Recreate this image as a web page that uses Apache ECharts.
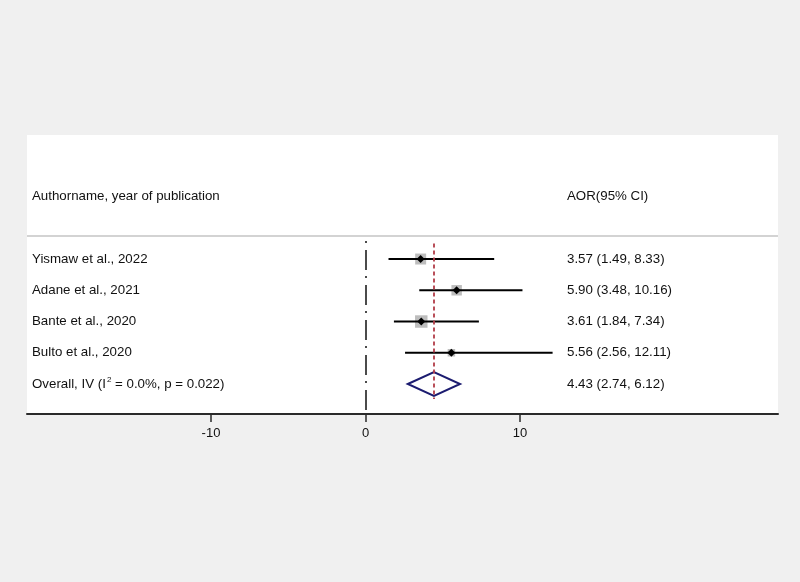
<!DOCTYPE html>
<html><head><meta charset="utf-8">
<script src="https://cdn.jsdelivr.net/npm/echarts@6/dist/echarts.min.js"></script>
<style>html,body{margin:0;padding:0;background:#f0f0f0}#c{width:800px;height:582px}</style>
</head><body><div id="c"></div>
<script>
// ---- data ----
const studies = ['Yismaw et al., 2022', 'Adane et al., 2021', 'Bante et al., 2020', 'Bulto et al., 2020'];
const aor = [3.57, 5.90, 3.61, 5.56];
const lower = [1.49, 3.48, 1.84, 2.56];
const upper = [8.33, 10.16, 7.34, 12.11];
const weights = [27.3, 24.8, 35.2, 12.7];
const overallLabel = 'Overall, IV (I{sup|2} = 0.0%, p = 0.022)';
const overallEst = 4.43;
const overallLower = 2.74;
const overallUpper = 6.12;
const headerLeft = 'Authorname, year of publication';
const headerRight = 'AOR(95% CI)';
const xTicks = [-10, 0, 10];

// ---- layout ----
const FONT = "'Liberation Sans', Arial, sans-serif";
const xMin = -21.91, xMax = 26.70;
const yMin = -3.97, yMax = 4.96;
const headerRow = -2, sepRow = -0.74;
const overallRow = studies.length;

const fmt = (e, l, u) => e.toFixed(2) + ' (' + l.toFixed(2) + ', ' + u.toFixed(2) + ')';
const leftTexts = [headerLeft].concat(studies, [overallLabel]);
const rightTexts = [headerRight].concat(studies.map((s, i) => fmt(aor[i], lower[i], upper[i])), [fmt(overallEst, overallLower, overallUpper)]);
const textRows = [headerRow].concat(studies.map((s, i) => i), [overallRow]);

const chart = echarts.init(document.getElementById('c'));
chart.setOption({
  animation: false,
  backgroundColor: '#f0f0f0',
  grid: { left: 27, right: 22, top: 135, bottom: 168, show: true, backgroundColor: '#ffffff', borderWidth: 0 },
  xAxis: {
    type: 'value', min: xMin, max: xMax, position: 'bottom',
    axisLine: { show: true, onZero: false, lineStyle: { color: '#2a2a2a', width: 2 } },
    axisTick: { show: true, customValues: xTicks, length: 8, lineStyle: { color: '#2a2a2a', width: 1.5 } },
    axisLabel: { customValues: xTicks, color: '#111', fontSize: 13, fontFamily: FONT, margin: 13 },
    splitLine: { show: false }
  },
  yAxis: { type: 'value', inverse: true, min: yMin, max: yMax, show: false, splitLine: { show: false } },
  series: [
    {
      type: 'custom', name: 'lines', silent: true,
      data: [[0]],
      encode: { y: 0 },
      renderItem: () => ({ type: 'group', children: [] }),
      markLine: {
        silent: true, symbol: 'none', label: { show: false }, animation: false,
        data: [
          [{ coord: [xMin, sepRow], lineStyle: { color: '#c4c4c4', width: 1.5, type: 'solid' } }, { coord: [xMax, sepRow] }],
          [{ coord: [0, sepRow], lineStyle: { color: '#111', width: 1.5, type: [20, 6, 2, 7], dashOffset: 21 } }, { coord: [0, yMax] }],
          [{ coord: [overallEst, -0.5], lineStyle: { color: '#b23c48', width: 1.8, type: [4, 3] } }, { coord: [overallEst, 4.48] }]
        ]
      }
    },
    {
      type: 'custom', name: 'studies', silent: true,
      data: studies.map((s, i) => [aor[i], lower[i], upper[i], i, weights[i]]),
      encode: { x: [0, 1, 2], y: 3 },
      renderItem: function (params, api) {
        const row = api.value(3);
        const c = api.coord([api.value(0), row]);
        const l = api.coord([api.value(1), row]);
        const u = api.coord([api.value(2), row]);
        const s = 2.1 * Math.sqrt(api.value(4));
        const d = 4;
        return {
          type: 'group', children: [
            { type: 'rect', shape: { x: c[0] - s / 2, y: c[1] - s / 2, width: s, height: s }, style: { fill: '#bdbdbd' } },
            { type: 'line', shape: { x1: l[0], y1: l[1], x2: u[0], y2: u[1] }, style: { stroke: '#000', lineWidth: 2 } },
            { type: 'polygon', shape: { points: [[c[0] - d, c[1]], [c[0], c[1] - d], [c[0] + d, c[1]], [c[0], c[1] + d]] }, style: { fill: '#000' } }
          ]
        };
      }
    },
    {
      type: 'custom', name: 'overall', silent: true,
      data: [[overallEst, overallLower, overallUpper, overallRow]],
      encode: { x: [0, 1, 2], y: 3 },
      renderItem: function (params, api) {
        const row = api.value(3);
        const c = api.coord([api.value(0), row]);
        const l = api.coord([api.value(1), row]);
        const u = api.coord([api.value(2), row]);
        const h = 12;
        return {
          type: 'polygon',
          shape: { points: [[l[0], c[1]], [c[0], c[1] - h], [u[0], c[1]], [c[0], c[1] + h]] },
          style: { fill: 'none', stroke: '#1c1c70', lineWidth: 2 }
        };
      }
    },
    {
      type: 'custom', name: 'texts', silent: true,
      data: textRows.map(r => [r]),
      encode: { y: 0 },
      renderItem: function (params, api) {
        const i = params.dataIndex;
        const y = api.coord([0, api.value(0)])[1];
        const x0 = params.coordSys.x;
        const base = { fill: '#111', fontSize: 13.3, fontFamily: FONT, align: 'left', verticalAlign: 'middle' };
        return {
          type: 'group', children: [
            { type: 'text', x: x0 + 5, y: y, style: Object.assign({}, base, { text: leftTexts[i], rich: { sup: { fontSize: 8, fontFamily: FONT, fill: '#111', padding: [0, 0, 9, 1] } } }) },
            { type: 'text', x: x0 + 540, y: y, style: Object.assign({}, base, { text: rightTexts[i] }) }
          ]
        };
      }
    }
  ]
});
</script></body></html>
